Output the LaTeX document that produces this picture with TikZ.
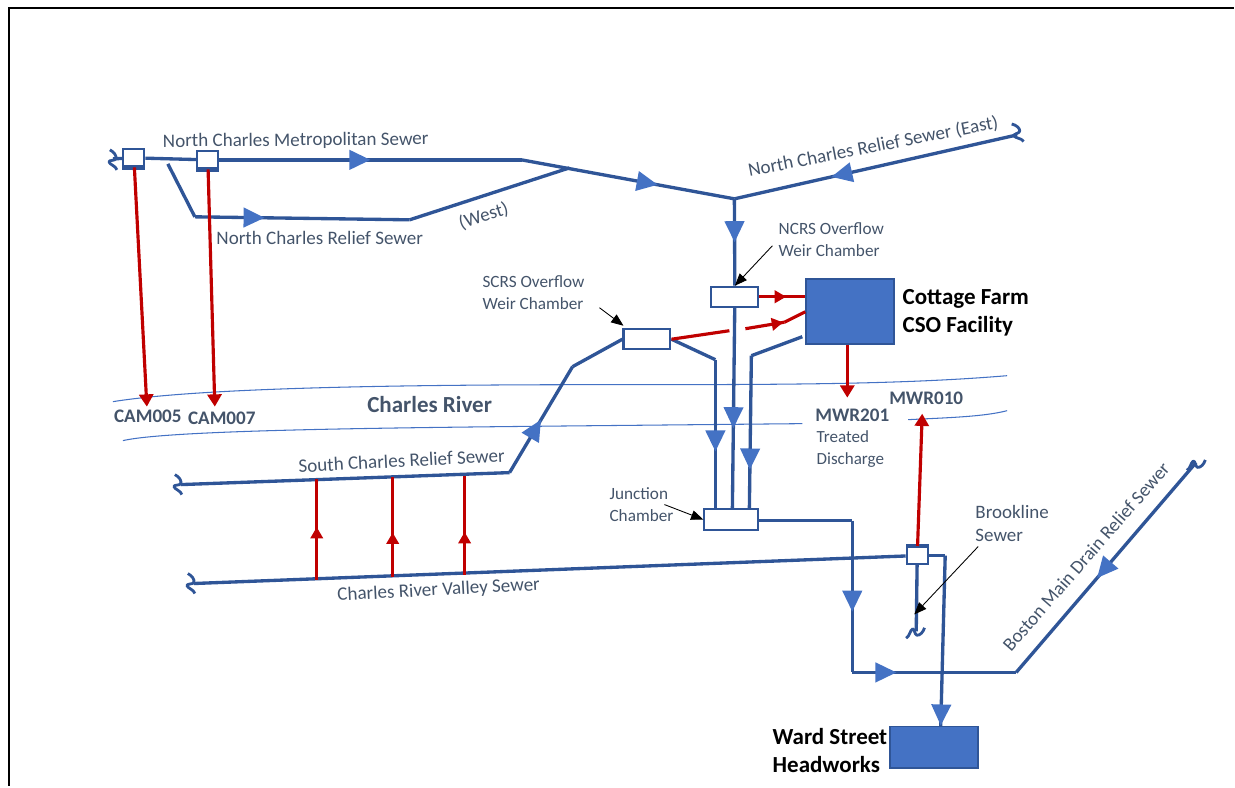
\documentclass[tikz,border=0pt]{standalone}
\usepackage{fontspec}
\setmainfont{Carlito}
\usetikzlibrary{arrows.meta,decorations.markings,shadows}
\definecolor{sewerblue}{HTML}{2F5597}
\definecolor{flowblue}{HTML}{4472C4}
\definecolor{labelgrey}{HTML}{44546A}
\definecolor{overflowred}{HTML}{C00000}

\begin{document}
\begin{tikzpicture}[x=0.02cm, y=-0.02cm,
    chamber/.style={rectangle, draw=sewerblue, fill=white, line width=1.2pt, minimum width=0.94cm, minimum height=0.4cm, inner sep=0pt},
    regulator/.style={rectangle, draw=sewerblue, fill=white, line width=1.2pt, minimum width=0.42cm, minimum height=0.34cm, inner sep=0pt, copy shadow={shadow xshift=0pt, shadow yshift=#1, draw=sewerblue, fill=white}},
    facility/.style={rectangle, draw=sewerblue, fill=flowblue, line width=1pt, inner sep=0pt},
    label/.style={text=labelgrey, font=\fontsize{10.85}{13}\selectfont, inner sep=0pt},
    smalllabel/.style={text=labelgrey, font=\fontsize{9.8}{12.2}\selectfont, align=left, inner sep=0pt},
    outfall/.style={text=labelgrey, font=\fontsize{10.9}{13}\selectfont\bfseries, inner sep=0pt},
    title/.style={text=black, font=\fontsize{13.1}{16}\selectfont\bfseries, align=left, inner sep=0pt},
    line/.style={draw=sewerblue, line width=1.9pt, line join=round},
    flow/.style={postaction={decorate}, decoration={markings, mark=at position #1 with {\arrow[flowblue]{Triangle[length=12pt, width=11pt]}}}},
    relief/.style={draw=overflowred, line width=1.8pt},
    reliefhead/.style={relief, -{Triangle[length=7pt, width=8pt]}},
    reliefflow/.style={relief, postaction={decorate}, decoration={markings, mark=at position #1 with {\arrow[overflowred]{Triangle[length=6.5pt, width=7pt]}}}},
    leader/.style={draw=black, line width=0.5pt, -{Triangle[length=7pt, width=5.5pt]}},
    river/.style={draw=flowblue, line width=0.6pt},
    sewerend/.pic={\draw[line, line width=1.6pt] (-3,-10) .. controls (1,-8) and (4,-4) .. (3,-1) .. controls (2,1) and (-4,0) .. (-4,2) .. controls (-3,5) and (3,6) .. (4,10);}]

    \draw[line width=1.2pt] (1235,8) -- (9,8) -- (9,787);
    \useasboundingbox (0,0) rectangle (1235,787);

    \draw[river] (113,402) .. controls (200,388) and (400,385) .. (600,385) .. controls (780,385) and (900,385) .. (1008,376);
    \draw[river] (123,441) .. controls (170,430) and (400,428) .. (600,426) -- (803,424);
    \draw[river] (909,420) .. controls (950,418) and (985,417) .. (1008,411);

    \node [regulator=-1.2pt] (cam005gate) at (134,158) {};
    \node [regulator=-1.2pt] (cam007gate) at (208,160) {};
    \node [regulator=1.2pt] (mwr010gate) at (918,556) {};
    \node [chamber] (ncrs) at (735.5,297) {};
    \node [chamber] (scrs) at (647.5,339.5) {};
    \node [chamber, minimum width=1.08cm, minimum height=0.42cm] (junction) at (732,520) {};
    \node [facility, minimum width=1.76cm, minimum height=1.3cm] (cottage) at (851,311.5) {};
    \node [facility, minimum width=1.76cm, minimum height=0.84cm] (ward) at (935,748) {};

    \node [label, rotate=0.5] (metro) at (296,141) {North Charles Metropolitan Sewer};
    \node [label] (reliefname) at (320,238) {North Charles Relief Sewer};
    \node [label, rotate=18] (west) at (484,216) {(West)};
    \node [label, rotate=11] (east) at (874,147) {North Charles Relief Sewer (East)};
    \node [label, rotate=3] (south) at (402,461) {South Charles Relief Sewer};
    \node [label, rotate=3] (valley) at (439,591) {Charles River Valley Sewer};
    \node [label, rotate=49] (boston) at (1087,557) {Boston Main Drain Relief Sewer};
    \node [smalllabel] (ncrslabel) at (832,240) {NCRS Overflow\\Weir Chamber};
    \node [smalllabel] (scrslabel) at (534,293) {SCRS Overflow\\Weir Chamber};
    \node [smalllabel] (junctionlabel) at (642,505) {Junction\\Chamber};
    \node [smalllabel, font=\fontsize{10.8}{13}\selectfont] (brookline) at (1013,524) {Brookline\\Sewer};
    \node [smalllabel, anchor=north west, font=\fontsize{9.7}{12.5}\selectfont] (treated) at (817,431) {Treated\\Discharge};
    \node [outfall] (cam005) at (148,417) {CAM005};
    \node [outfall] (cam007) at (222,419) {CAM007};
    \node [outfall] (mwr201) at (853,416) {MWR201};
    \node [outfall] (mwr010) at (927,399) {MWR010};
    \node [outfall, font=\fontsize{13.1}{15}\selectfont\bfseries] (charles) at (430,405) {Charles River};
    \node [title, anchor=west] (cottagename) at (903,313) {Cottage Farm\\CSO Facility};
    \node [title, anchor=west] (wardname) at (773,751) {Ward Street\\Headworks};

    \coordinate (metrostart) at (113,159);
    \coordinate (metroend) at (522,160);
    \coordinate (ncjoin) at (735,199);
    \coordinate (westjoin) at (570,168);
    \coordinate (westbend) at (410,220);
    \coordinate (reliefbend) at (195,217);
    \coordinate (reliefstart) at (168,164);
    \coordinate (eastend) at (1018,135);
    \coordinate (southstart) at (181,485);
    \coordinate (southbend) at (510,473);
    \coordinate (southup) at (573,367);
    \coordinate (scrsdown) at (716,360);
    \coordinate (cottagein) at (803,337);
    \coordinate (cottageout) at (752,356);
    \coordinate (valleystart) at (194,584);
    \coordinate (wardbend) at (946,556);
    \coordinate (junctionbend) at (853,521);
    \coordinate (streetbend) at (853,673);
    \coordinate (bostonbend) at (1017,673);
    \coordinate (bostonend) at (1197,463);
    \coordinate (brooklineend) at (917,632);

    \path [line] (metrostart) -- (cam005gate);
    \path [line] (cam005gate) -- (cam007gate);
    \path [line, flow=0.5] (cam007gate) -- (metroend);
    \path [line, flow=0.64] (metroend) -- (ncjoin);
    \path [line] (reliefstart) -- (reliefbend);
    \path [line, flow=0.325] (reliefbend) -- (westbend);
    \path [line] (westbend) -- (westjoin);
    \path [line, flow=0.657] (eastend) -- (ncjoin);
    \path [line, flow=0.5] (ncjoin) -- (ncrs);
    \path [line, flow=0.6] (ncrs) -- (733,509);
    \path [line] (scrs.east) -- (scrsdown);
    \path [line, flow=0.617] (scrsdown) -- (716,509);
    \path [line] (cottagein) -- (cottageout);
    \path [line, flow=0.745] (cottageout) -- (750,509);
    \path [line] (southstart) -- (southbend);
    \path [line, flow=0.5] (southbend) -- (southup);
    \path [line] (southup) -- (scrs.west);
    \path [line] (valleystart) -- (mwr010gate);
    \path [line] (mwr010gate) -- (wardbend);
    \path [line, flow=0.995] (wardbend) -- (941.5,727);
    \path [line] (junction.east |- junctionbend) -- (junctionbend);
    \path [line, flow=0.6] (junctionbend) -- (streetbend);
    \path [line, flow=0.27] (streetbend) -- (bostonbend);
    \path [line, flow=0.55] (bostonend) -- (bostonbend);
    \path [line] (mwr010gate) -- (brooklineend);

    \pic at (113,160) {sewerend};
    \pic at (178,485) {sewerend};
    \pic at (191,584) {sewerend};
    \pic[rotate=15] at (1018,133) {sewerend};
    \pic[rotate=-80] at (1197,465) {sewerend};
    \pic[rotate=-80] at (916,633) {sewerend};

    \path [reliefhead] (cam005gate) -- (147,407);
    \path [reliefhead] (cam007gate) -- (215,407);
    \path [reliefhead] (848,0 |- cottage.south) -- (848,398);
    \path [reliefhead] (mwr010gate) -- (923,414);
    \path [reliefflow=0.58] (ncrs.east) -- (cottage.west |- ncrs.east);
    \path [relief] (scrs.east) -- (730,331);
    \path [reliefflow=0.97] (746,329) -- (785,322.5);
    \path [relief] (785,322.5) -- (806,312);
    \path [reliefflow=0.52] (317,580) -- (317,479);
    \path [reliefflow=0.44] (393,577) -- (393,477);
    \path [reliefflow=0.43] (465,575) -- (465,476);

    \path [leader] (773,246) -- (ncrs.north);
    \path [leader] (600,308) -- (624,326);
    \path [leader] (665,505) -- (junction.west);
    \path [leader] (979,547) -- (915,615);
\end{tikzpicture}
\end{document}
